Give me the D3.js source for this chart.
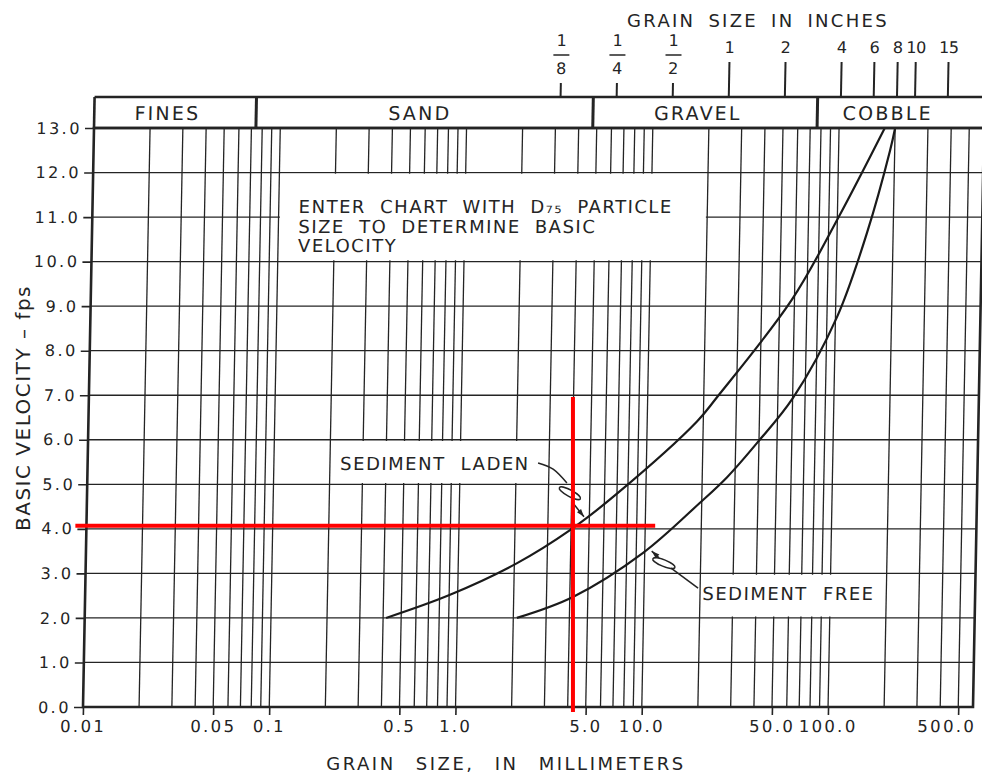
<!DOCTYPE html>
<html><head><meta charset="utf-8">
<script src="https://cdn.jsdelivr.net/npm/d3@7"></script>
<style>
html,body{margin:0;padding:0;background:#fff;}
svg{display:block;font-family:"DejaVu Sans",sans-serif;}
</style></head><body>
<svg id="c" width="982" height="779"></svg>
<script>
// ---------------- data ----------------
const yTicks = [0,1,2,3,4,5,6,7,8,9,10,11,12,13];
const yTickLabels = ["0.0","1.0","2.0","3.0","4.0","5.0","6.0","7.0","8.0","9.0","10.0","11.0","12.0","13.0"];
const xTickValues = [0.01,0.05,0.1,0.5,1,5,10,50,100,500];
const xTickLabels = ["0.01","0.05","0.1","0.5","1.0","5.0","10.0","50.0","100.0","500.0"];
const gridMantissas = [1,2,3,4,5,6,7,8,9];
const xDomain = [0.01, 600];
const yDomain = [0, 13];

const soilClasses = ["FINES","SAND","GRAVEL","COBBLE"];
const soilBounds = [0.074, 4.76, 76.2];          // mm
const soilLabelAt = [0.0247, 0.56, 17.4, 182];   // mm

const inchValues = [0.125,0.25,0.5,1,2,4,6,8,10,15];
const inchLabels = ["1/8","1/4","1/2","1","2","4","6","8","10","15"];
const mmPerInch = 25.4;

// curves: grain size (mm), basic velocity (fps)
const ladenD = [0.415,0.91,2.07,3.95,7.0,18.5,23.5,58,101,176];
const ladenV = [2.0,2.52,3.23,3.97,4.79,6.41,6.95,9.14,10.98,13.0];
const freeD  = [2.09,4.16,9.8,19.5,27.2,39.1,60.3,102,144.6,189,200];
const freeV  = [2.0,2.47,3.46,4.58,5.16,5.93,6.94,8.76,10.64,12.5,13.0];

// note boxes (blank grid areas): [d0, d1, v0, v1]
const noteBoxes = [[0.1,20,10,12],[0.2,3,5,6],[20,200,2,3]];
const note1Lines = ["ENTER CHART WITH D₇₅ PARTICLE","SIZE TO DETERMINE BASIC","VELOCITY"];
const note1At = [0.128, 11.09];
const ladenLabel = "SEDIMENT LADEN", ladenLabelAt = [0.227, 5.32];
const freeLabel = "SEDIMENT FREE",  freeLabelAt = [20.6, 2.40];
// leaders: path points, loop centre, arrow start, arrow tip
const ladenLeader = [[2.62,5.48],[3.16,5.34],[3.76,5.03]];
const ladenLoop = [3.91,4.80], ladenArrow = [[4.07,4.58],[4.68,4.27]];
const freeLeader = [[19.5,2.67],[13.9,3.12]];
const freeLoop = [12.7,3.23], freeArrow = [[11.95,3.35],[10.9,3.50]];

// red reading lines
const redH = {v:4.07, d0:0.0091, d1:11.8};
const redV = {d:4.27, v0:-0.11, v1:6.96};

// ---------------- drawing ----------------
const svg = d3.select("#c");
const ink = "#242424";
const x = d3.scaleLog().domain(xDomain).range([83, 973]);
const y = d3.scaleLinear().domain(yDomain).range([707, 128]);
const SK = -11/579; // scan shear
const g = svg.append("g").attr("transform", `matrix(1,0,${SK},1,${-SK*y(0)},0)`);

// vertical grid
const gridVals = [];
for (let e=-2; e<=2; e++) for (const m of gridMantissas) {
  const v = +(m*Math.pow(10,e)).toPrecision(3);
  if (v > xDomain[0] && v < xDomain[1]) gridVals.push(v);
}
g.append("g").selectAll("line").data(gridVals).join("line")
  .attr("x1", d=>x(d)).attr("x2", d=>x(d)).attr("y1", y(0)).attr("y2", y(13))
  .attr("stroke", ink).attr("stroke-width", 1.3);
g.append("g").selectAll("line").data(yTicks.filter(v=>v>0 && v<13)).join("line")
  .attr("x1", x(xDomain[0])).attr("x2", x(xDomain[1])).attr("y1", d=>y(d)).attr("y2", d=>y(d))
  .attr("stroke", ink).attr("stroke-width", 1.3);

// blank note boxes
g.append("g").selectAll("rect").data(noteBoxes).join("rect")
  .attr("x", d=>x(d[0])+1.3).attr("width", d=>x(d[1])-x(d[0])-2.6)
  .attr("y", d=>y(d[3])+1.3).attr("height", d=>y(d[2])-y(d[3])-2.6)
  .attr("fill", "#fff");

// curves
const line = d3.line().x(d=>x(d[0])).y(d=>y(d[1])).curve(d3.curveCatmullRom.alpha(0.5));
[[ladenD,ladenV],[freeD,freeV]].forEach(([D,V])=>{
  g.append("path").datum(d3.zip(D,V)).attr("d", line)
    .attr("fill","none").attr("stroke", "#1a1a1a").attr("stroke-width", 2.2);
});

// leaders
const lead = d3.line().x(d=>x(d[0])).y(d=>y(d[1])).curve(d3.curveNatural);
function leader(pts, loop, arrow, rot) {
  g.append("path").attr("d", lead(pts)).attr("fill","none").attr("stroke",ink).attr("stroke-width",1.5);
  g.append("ellipse").attr("cx", x(loop[0])).attr("cy", y(loop[1])).attr("rx", 12).attr("ry", 3.2)
    .attr("transform", `rotate(${rot},${x(loop[0])},${y(loop[1])})`)
    .attr("fill","none").attr("stroke",ink).attr("stroke-width",1.4);
  const a = [x(arrow[0][0]), y(arrow[0][1])], t = [x(arrow[1][0]), y(arrow[1][1])];
  g.append("line").attr("x1",a[0]).attr("y1",a[1]).attr("x2",t[0]).attr("y2",t[1])
    .attr("stroke",ink).attr("stroke-width",1.5);
  const dx=t[0]-a[0], dy=t[1]-a[1], L=Math.hypot(dx,dy), ux=dx/L, uy=dy/L;
  const bx=t[0]-ux*8, by=t[1]-uy*8;
  g.append("path").attr("d",`M${t[0]},${t[1]}L${bx-uy*2.6},${by+ux*2.6}L${bx+uy*2.6},${by-ux*2.6}Z`).attr("fill",ink);
}
leader(ladenLeader, ladenLoop, ladenArrow, 28);
leader(freeLeader, freeLoop, freeArrow, 22);

// note texts
const noteStyle = s => s.attr("font-size",18).attr("letter-spacing",1.5).attr("word-spacing",7).attr("fill",ink);
note1Lines.forEach((ln,i)=>{
  g.append("text").attr("x", x(note1At[0])).attr("y", y(note1At[1]) + i*19.5).call(noteStyle).text(ln);
});
g.append("text").attr("x", x(ladenLabelAt[0])).attr("y", y(ladenLabelAt[1])).call(noteStyle).attr("word-spacing",8).text(ladenLabel);
g.append("text").attr("x", x(freeLabelAt[0])).attr("y", y(freeLabelAt[1])).call(noteStyle).attr("word-spacing",8).text(freeLabel);

// frame
g.append("rect").attr("x", x(xDomain[0])).attr("y", y(13)).attr("width", x(xDomain[1])-x(xDomain[0])).attr("height", y(0)-y(13))
  .attr("fill","none").attr("stroke", ink).attr("stroke-width", 2.6);

// header band
const hTop = y(13) - 31;
g.append("line").attr("x1", x(xDomain[0])).attr("x2", x(xDomain[1])+30).attr("y1", hTop).attr("y2", hTop).attr("stroke",ink).attr("stroke-width",2.6);
g.append("line").attr("x1", x(xDomain[0])).attr("x2", x(xDomain[1])+30).attr("y1", y(13)).attr("y2", y(13)).attr("stroke",ink).attr("stroke-width",2.6);
g.append("line").attr("x1", x(xDomain[0])).attr("x2", x(xDomain[0])).attr("y1", hTop).attr("y2", y(13)).attr("stroke",ink).attr("stroke-width",2.6);
g.append("g").selectAll("line").data(soilBounds).join("line")
  .attr("x1", d=>x(d)).attr("x2", d=>x(d)).attr("y1", hTop).attr("y2", y(13))
  .attr("stroke", ink).attr("stroke-width", 3);
g.append("g").selectAll("text").data(soilClasses).join("text")
  .attr("x", (d,i)=>x(soilLabelAt[i])).attr("y", hTop + 23).attr("text-anchor","middle")
  .attr("font-size",19).attr("letter-spacing",2.2).attr("fill",ink).text(d=>d);

// inch axis
inchValues.forEach((v,i)=>{
  const px = x(v*mmPerInch), lab = inchLabels[i];
  const frac = lab.includes("/");
  g.append("line").attr("x1",px).attr("x2",px).attr("y1", frac ? hTop-14 : hTop-35).attr("y2", hTop)
    .attr("stroke",ink).attr("stroke-width",2);
  if (frac) {
    const [n,dn] = lab.split("/");
    g.append("text").attr("x",px).attr("y",hTop-51).attr("text-anchor","middle").attr("font-size",16).attr("fill",ink).text(n);
    g.append("line").attr("x1",px-8).attr("x2",px+8).attr("y1",hTop-42).attr("y2",hTop-42).attr("stroke",ink).attr("stroke-width",1.6);
    g.append("text").attr("x",px).attr("y",hTop-23).attr("text-anchor","middle").attr("font-size",16).attr("fill",ink).text(dn);
  } else {
    g.append("text").attr("x",px).attr("y",hTop-44).attr("text-anchor","middle").attr("font-size",16)
      .attr("letter-spacing", lab.length>1 ? -0.5 : 0).attr("fill",ink).text(lab);
  }
});

// y axis
const ya = g.append("g").attr("transform", `translate(${x(xDomain[0])},0)`)
  .call(d3.axisLeft(y).tickValues(yTicks).tickFormat((d,i)=>yTickLabels[i]).tickSize(9).tickPadding(3));
ya.select(".domain").remove();
ya.selectAll("line").attr("stroke", ink).attr("stroke-width", 1.6);
ya.selectAll("text").attr("font-family","DejaVu Sans").attr("font-size",16).attr("letter-spacing",2.5).attr("fill",ink);

// x axis
const xa = g.append("g").attr("transform", `translate(0,${y(0)})`)
  .call(d3.axisBottom(x).tickValues(xTickValues).tickFormat((d,i)=>xTickLabels[i]).tickSize(8).tickPadding(5));
xa.select(".domain").remove();
xa.selectAll("line").attr("stroke", ink).attr("stroke-width", 1.6);
xa.selectAll("text").attr("font-family","DejaVu Sans").attr("font-size",16.5).attr("letter-spacing",2.3).attr("fill",ink);
// keep the last label inside the frame
xa.selectAll(".tick").filter((d,i,n)=>i===n.length-1).select("text")
  .attr("text-anchor","end").attr("x", x(xDomain[1]) - x(xTickValues[xTickValues.length-1]) + 3);

// titles
svg.append("text").attr("x", 758).attr("y", 27).attr("text-anchor","middle")
  .attr("font-size",18).attr("letter-spacing",2.3).attr("word-spacing",5).attr("fill",ink).text("GRAIN SIZE IN INCHES");
svg.append("text").attr("x", 506).attr("y", 770).attr("text-anchor","middle")
  .attr("font-size",18).attr("letter-spacing",2.5).attr("word-spacing",12).attr("fill",ink).text("GRAIN SIZE, IN MILLIMETERS");
svg.append("text").attr("transform","translate(30,408) rotate(-90)").attr("text-anchor","middle")
  .attr("font-size",20).attr("letter-spacing",1.5).attr("fill",ink).text("BASIC VELOCITY – fps");

// red reading lines (overlay, unsheared)
svg.append("line").attr("x1", x(redH.d0)).attr("x2", x(redH.d1)).attr("y1", y(redH.v)).attr("y2", y(redH.v))
  .attr("stroke","#ff0000").attr("stroke-width",4);
svg.append("line").attr("x1", x(redV.d)).attr("x2", x(redV.d)).attr("y1", y(redV.v0)).attr("y2", y(redV.v1))
  .attr("stroke","#ff0000").attr("stroke-width",4);
</script>
</body></html>
